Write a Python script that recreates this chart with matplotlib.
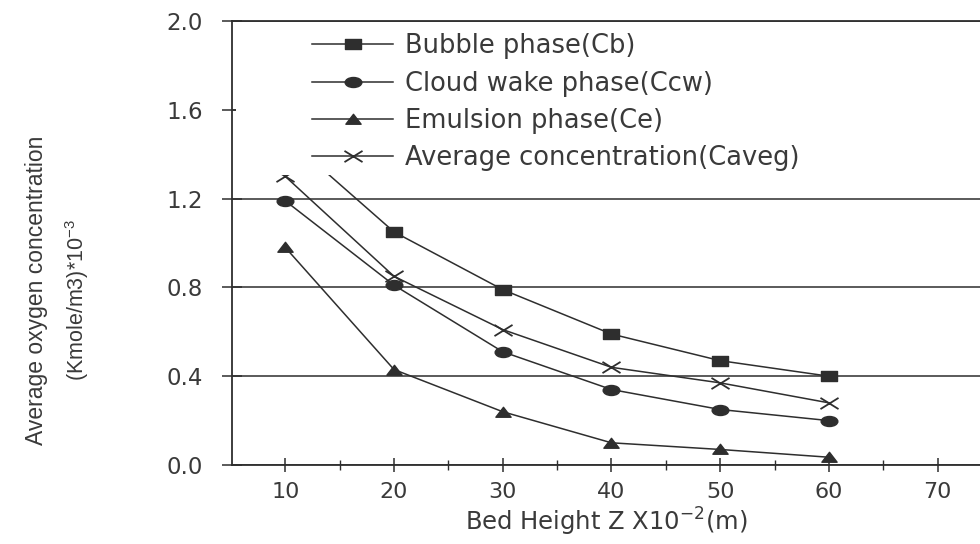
import matplotlib
matplotlib.use("Agg")
import matplotlib.pyplot as plt
from matplotlib.path import Path
from matplotlib.transforms import Affine2D, blended_transform_factory
from matplotlib.patches import Rectangle
from matplotlib.ticker import MultipleLocator, FixedLocator, FormatStrFormatter

# ---------------- data ----------------
bed_height = [10, 20, 30, 40, 50, 60]
bubble = [1.48, 1.05, 0.79, 0.59, 0.47, 0.40]
cloud_wake = [1.19, 0.81, 0.51, 0.34, 0.25, 0.20]
emulsion = [0.98, 0.43, 0.24, 0.10, 0.07, 0.035]
average = [1.30, 0.85, 0.61, 0.44, 0.37, 0.28]
series_labels = ["Bubble phase(Cb)", "Cloud wake phase(Ccw)",
                 "Emulsion phase(Ce)", "Average concentration(Caveg)"]
x_ticks = [10, 20, 30, 40, 50, 60, 70]
y_ticks = [0.0, 0.4, 0.8, 1.2, 1.6, 2.0]
x_label = r"Bed Height Z X10$^{-2}$(m)"
y_label_1 = "Average oxygen concentration"
y_label_2 = r"(Kmole/m3)*10$^{-3}$"

plt.rcParams["font.family"] = ["DejaVu Sans"]
plt.rcParams["mathtext.default"] = "regular"

INK = "#2e2e2e"
TXT = "#3a3a3a"

# wide markers (the scanned figure is stretched horizontally)
sq_marker = Path([(-1, -0.62), (1, -0.62), (1, 0.62), (-1, 0.62), (-1, -0.62)],
                 [Path.MOVETO, Path.LINETO, Path.LINETO, Path.LINETO, Path.CLOSEPOLY])
el_marker = Path.unit_circle().transformed(Affine2D().scale(1, 0.6))
tri_marker = Path([(0, 0.68), (-1, -0.62), (1, -0.62), (0, 0.68)],
                  [Path.MOVETO, Path.LINETO, Path.LINETO, Path.CLOSEPOLY])
x_marker = Path([(-1, -0.62), (1, 0.62), (-1, 0.62), (1, -0.62)],
                [Path.MOVETO, Path.LINETO, Path.MOVETO, Path.LINETO])

fig = plt.figure(figsize=(9.8, 5.44), dpi=100, facecolor="white")
ax = fig.add_axes([232 / 980, 79 / 544, (980 - 232) / 980, (465 - 21) / 544])

lw = 1.1
ax.plot(bed_height, bubble, color=INK, lw=lw, marker=sq_marker, ms=12,
        mfc=INK, mec=INK, label=series_labels[0], zorder=2)
ax.plot(bed_height, cloud_wake, color=INK, lw=lw, marker=el_marker, ms=12,
        mfc=INK, mec=INK, label=series_labels[1], zorder=2)
ax.plot(bed_height, emulsion, color=INK, lw=lw, marker=tri_marker, ms=11,
        mfc=INK, mec=INK, label=series_labels[2], zorder=2)
ax.plot(bed_height, average, color=INK, lw=lw, marker=x_marker, ms=13,
        mfc="none", mec=INK, mew=1.3, label=series_labels[3], zorder=2)

ax.set_xlim(5.1, 73.9)
ax.set_ylim(0, 2.0)

ax.xaxis.set_major_locator(FixedLocator(x_ticks))
ax.xaxis.set_minor_locator(MultipleLocator(5))
ax.yaxis.set_major_locator(FixedLocator(y_ticks))
ax.yaxis.set_major_formatter(FormatStrFormatter("%.1f"))

ax.tick_params(axis="x", which="major", direction="inout", length=10, width=1.1,
               color=INK, labelsize=16, labelcolor=TXT, pad=7)
ax.tick_params(axis="x", which="minor", direction="inout", length=7, width=1.0, color=INK)
ax.tick_params(axis="y", which="major", direction="inout", length=14, width=1.1,
               color=INK, labelsize=16.5, labelcolor=TXT, pad=14)

ax.yaxis.grid(True, color=INK, lw=1.1)
ax.set_axisbelow(True)

for s in ("left", "bottom", "top"):
    ax.spines[s].set_color(INK)
    ax.spines[s].set_linewidth(1.3)
ax.spines["right"].set_visible(False)

# white area behind the legend (hides the lines above the legend bottom)
tr = blended_transform_factory(ax.transAxes, ax.transData)
ax.add_patch(Rectangle((0.006, 1.305), 1.0, 0.66, transform=tr,
                       facecolor="white", edgecolor="none", zorder=3))

leg = ax.legend(loc="upper left", bbox_to_anchor=(0.107, 0.972), frameon=False,
                fontsize=18.5, handlelength=3.15, handletextpad=0.45,
                labelspacing=0.44, borderpad=0, borderaxespad=0)
for t in leg.get_texts():
    t.set_color(TXT)
leg.set_zorder(4)

ax.set_xlabel(x_label, fontsize=17.5, color=TXT, labelpad=3)

yl_font = ["Liberation Sans", "DejaVu Sans"]
fig.text(37 / 980, 1 - 290 / 544, y_label_1, rotation=90, ha="center", va="center",
         fontsize=16.5, family=yl_font, color=TXT)
fig.text(77 / 980, 1 - 300 / 544, y_label_2, rotation=90, ha="center", va="center",
         fontsize=15.5, family=yl_font, color=TXT)

fig.savefig("out.png", dpi=100, facecolor="white")
